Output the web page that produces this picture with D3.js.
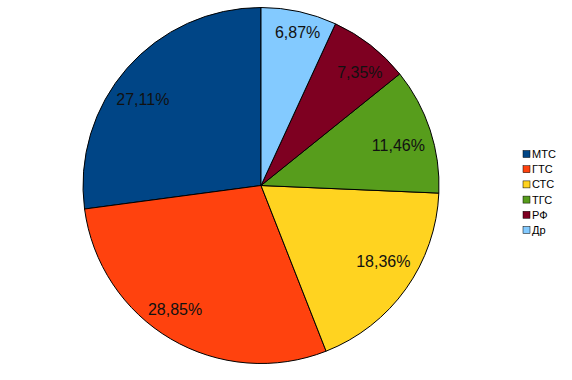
<!DOCTYPE html>
<html>
<head>
<meta charset="utf-8">
<script src="https://cdn.jsdelivr.net/npm/d3@7"></script>
<style>
  html, body { margin: 0; padding: 0; background: #fff; }
  svg { display: block; }
</style>
</head>
<body>
<div id="chart"></div>
<script>
// Share of each operator, in percent (legend order)
const categories = ['МТС', 'ГТС', 'СТС', 'ТГС', 'РФ', 'Др'];
const values = [27.11, 28.85, 18.36, 11.46, 7.35, 6.87];
const labels = ['27,11%', '28,85%', '18,36%', '11,46%', '7,35%', '6,87%'];
const colors = ['#004586', '#ff420e', '#ffd320', '#579d1c', '#7e0021', '#83caff'];

(function () {
  const W = 572, H = 380;
  const cx = 261, cy = 185.5, r = 178;

  // Small nudges so labels sit where the original's best-fit placement put them
  const LABEL_NUDGE = {
    'МТС': [-7, 11], 'ГТС': [-11, -4], 'СТС': [2, -10],
    'ТГС': [-3, 6], 'РФ': [8, 3], 'Др': [5, -9],
  };

  const svg = d3.select('#chart').append('svg')
    .attr('width', W).attr('height', H)
    .attr('viewBox', `0 0 ${W} ${H}`);

  const data = categories.map((c, i) => ({ name: c, value: values[i], label: labels[i], color: colors[i] }));

  // Counter-clockwise from 12 o'clock, as in the original
  const pie = d3.pie()
    .value(d => d.value)
    .sort(null)
    .startAngle(0)
    .endAngle(-2 * Math.PI);

  const arc = d3.arc().innerRadius(0).outerRadius(r);
  const labelArc = d3.arc().innerRadius(r * 0.83).outerRadius(r * 0.83);

  const g = svg.append('g').attr('transform', `translate(${cx},${cy})`);
  const arcs = pie(data);

  g.selectAll('path')
    .data(arcs)
    .enter()
    .append('path')
    .attr('d', arc)
    .attr('fill', d => d.data.color)
    .attr('stroke', '#000')
    .attr('stroke-width', 1);

  g.selectAll('.lbl')
    .data(arcs)
    .enter()
    .append('text')
    .attr('class', 'lbl')
    .attr('transform', d => {
      const [x, y] = labelArc.centroid(d);
      const [nx, ny] = LABEL_NUDGE[d.data.name] || [0, 0];
      return `translate(${x + nx},${y + ny})`;
    })
    .attr('dy', '0.36em')
    .attr('text-anchor', 'middle')
    .style('font-family', '"Liberation Sans", Arial, sans-serif')
    .style('font-size', '16px')
    .style('fill', '#111')
    .text(d => d.data.label);

  // Legend
  const legend = svg.append('g').attr('transform', 'translate(523,154)');
  const y = d3.scalePoint().domain(categories).range([0, 76]);

  legend.selectAll('rect')
    .data(data)
    .enter()
    .append('rect')
    .attr('x', 0).attr('y', d => y(d.name) - 3.5)
    .attr('width', 7).attr('height', 7)
    .attr('fill', d => d.color)
    .attr('stroke', '#000')
    .attr('stroke-width', 0.5);

  legend.selectAll('text')
    .data(data)
    .enter()
    .append('text')
    .attr('x', 9).attr('y', d => y(d.name))
    .attr('dy', '0.36em')
    .style('font-family', '"Liberation Sans", Arial, sans-serif')
    .style('font-size', '11px')
    .style('fill', '#000')
    .text(d => d.name);
})();
</script>
</body>
</html>
